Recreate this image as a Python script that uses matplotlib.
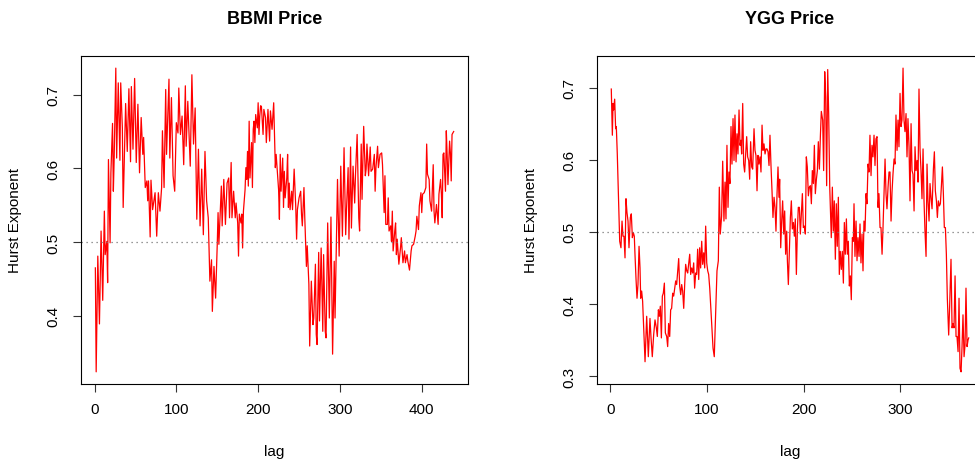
import numpy as np
import matplotlib
matplotlib.use("Agg")
import matplotlib.pyplot as plt

plt.rcParams['font.family'] = ['Liberation Sans', 'DejaVu Sans']

# ---- BBMI: lag / Hurst exponent ----
bbmi_lag = [1, 2, 4, 6, 8, 10, 12, 13, 15, 16, 17, 19, 20, 22, 23, 24, 26, 27, 29, 31,
            32, 34, 35, 38, 40, 42, 44, 45, 47, 49, 51, 53, 55, 57, 59, 60, 62, 64, 65, 66,
            68, 69, 71, 74, 76, 78, 80, 82, 83, 85, 87, 88, 89, 91, 92, 94, 96, 98, 100, 102,
            103, 105, 107, 109, 111, 112, 114, 117,
            119, 121, 123, 125, 127, 129, 131, 133, 135, 137, 139, 141, 143, 144, 146, 148, 150, 151, 152, 155,
            156, 158, 160, 162, 164, 165, 167, 168, 170, 172, 173, 175, 176, 177, 179, 180, 181, 182, 184, 185,
            186, 187, 188, 189, 190, 192, 193, 194, 195, 196, 197, 199, 200, 201, 202, 203, 204, 206, 207, 209,
            210, 212, 214, 215, 217, 219, 221, 222, 224, 225, 226, 227, 228, 230, 231, 232, 233, 235, 236, 237,
            238, 239, 241, 242, 244, 246, 247, 248,
            250, 252, 253, 254, 256, 257, 259, 260, 262, 263, 265, 267, 268, 270, 271, 272, 274, 275, 277, 279,
            280, 282, 283, 285, 287, 289, 291, 293, 294, 295, 297, 299, 301, 303, 305, 307, 308, 310, 311, 313,
            314, 316, 318, 319, 321, 323, 324, 326, 327, 329, 331, 332, 333, 335, 337, 338, 340, 342, 343, 344,
            346, 347, 349, 351, 352, 354, 355, 356, 358, 359, 360, 362, 363, 364, 365, 367, 368, 369, 370, 372,
            374, 375, 377, 379, 380, 382, 383, 385, 387, 388, 390, 392, 393, 394, 396, 397, 399, 400, 401, 403,
            405, 406, 407, 409, 410, 412, 413, 414, 415, 416, 418, 419, 420, 421, 423, 424, 425, 426, 427, 429,
            430, 431, 432, 434, 435, 436, 437, 439]
bbmi_h = [0.465, 0.324, 0.481, 0.389, 0.515, 0.421, 0.542, 0.483, 0.501, 0.445, 0.612, 0.499, 0.594, 0.661, 0.569,
          0.614, 0.736, 0.614, 0.716, 0.611, 0.716, 0.655, 0.547, 0.688, 0.623, 0.708, 0.609, 0.711, 0.626, 0.722,
          0.608, 0.687, 0.594, 0.669, 0.619, 0.642, 0.574, 0.583, 0.556, 0.583, 0.507, 0.584, 0.544, 0.567, 0.508,
          0.567, 0.542, 0.574, 0.651, 0.574, 0.707, 0.619, 0.653, 0.721, 0.614, 0.696, 0.590, 0.569, 0.662, 0.648,
          0.709, 0.646, 0.671, 0.605, 0.712, 0.630, 0.691, 0.603,
          0.727, 0.633, 0.682, 0.531, 0.626, 0.522, 0.599, 0.510, 0.623, 0.556, 0.533, 0.447, 0.476, 0.406, 0.467,
          0.424, 0.497, 0.540, 0.497, 0.576, 0.522, 0.585, 0.524, 0.580, 0.587, 0.533, 0.608, 0.533, 0.569, 0.533,
          0.553, 0.526, 0.481, 0.538, 0.526, 0.538, 0.492, 0.542, 0.571, 0.601, 0.585, 0.623, 0.576, 0.664, 0.587,
          0.635, 0.574, 0.653, 0.664, 0.635, 0.673, 0.655, 0.689, 0.646, 0.671, 0.685, 0.684, 0.646, 0.680, 0.669,
          0.635, 0.680, 0.637, 0.678, 0.653, 0.689, 0.601, 0.619, 0.587, 0.571, 0.531, 0.619, 0.569, 0.614, 0.547,
          0.596, 0.560, 0.587, 0.619, 0.547, 0.580, 0.544, 0.569, 0.544, 0.599, 0.547, 0.504, 0.544,
          0.560, 0.569, 0.538, 0.522, 0.574, 0.533, 0.467, 0.495, 0.443, 0.359, 0.447, 0.388, 0.397, 0.470, 0.375,
          0.361, 0.486, 0.393, 0.492, 0.379, 0.483, 0.379, 0.370, 0.526, 0.397, 0.534, 0.348, 0.474, 0.397, 0.461,
          0.585, 0.481, 0.603, 0.508, 0.628, 0.510, 0.544, 0.601, 0.504, 0.629, 0.519, 0.603, 0.553, 0.592, 0.646,
          0.533, 0.515, 0.633, 0.558, 0.657, 0.590, 0.599, 0.633, 0.590, 0.629, 0.596, 0.599, 0.619, 0.569, 0.601,
          0.630, 0.601, 0.619, 0.621, 0.605, 0.540, 0.590, 0.524, 0.524, 0.560, 0.515, 0.522, 0.501, 0.542, 0.488,
          0.515, 0.526, 0.483, 0.504, 0.470, 0.492, 0.506, 0.472, 0.488, 0.472, 0.483, 0.474, 0.462, 0.488, 0.495,
          0.497, 0.508, 0.515, 0.535, 0.517, 0.549, 0.567, 0.540, 0.565, 0.567, 0.574, 0.633, 0.592, 0.585, 0.556,
          0.542, 0.574, 0.605, 0.542, 0.526, 0.551, 0.538, 0.524, 0.565, 0.585, 0.565, 0.533, 0.619, 0.621, 0.569,
          0.651, 0.619, 0.578, 0.637, 0.621, 0.583, 0.646, 0.650]

# ---- YGG: lag / Hurst exponent ----
ygg_lag = [1.0, 2.1, 2.8, 3.4, 4.5, 5.5, 6.2, 7.2, 8.6, 9.7, 11.0, 12.1, 13.1, 14.1, 15.2, 16.2, 17.2, 18.3,
           19.3, 20.7, 21.7, 22.8, 23.8, 24.8, 25.5, 26.6, 27.6, 28.6, 29.7, 30.7, 31.4, 32.4, 33.4, 34.5, 35.9,
           37.6, 39.3, 41.0, 42.1, 43.4, 44.8, 46.2, 47.6, 48.6, 49.7, 50.7, 51.7, 52.8, 53.8, 54.8, 55.9, 56.9,
           58.3, 59.3, 60.3, 61.4, 62.4, 63.4, 64.5, 65.5, 66.6, 67.6, 68.6, 69.7, 70.7, 71.7, 72.8, 73.8, 74.8,
           75.9, 76.9, 77.9, 79.0, 80.0, 81.0, 82.1, 83.1, 84.1, 85.2, 86.2, 87.2, 88.3, 89.3, 90.3, 91.4, 92.4,
           93.4, 94.5, 95.5, 96.6, 97.6, 98.6, 99.7, 100.7, 101.7, 102.8,
           105.1, 106.2, 107.5, 108.9, 110.3, 111.7, 112.7, 113.7, 115.1, 116.2, 117.5, 118.6, 119.6, 120.6, 121.7,
           122.7, 123.7, 124.8, 125.8, 126.9, 127.9, 128.9, 130.0, 131.0, 132.0, 133.1, 134.1, 135.1, 135.8, 136.9,
           137.9, 138.9, 140.0, 141.0, 142.0, 143.1, 144.1, 145.1, 146.2, 147.2, 148.6, 149.6, 150.6, 151.7, 152.7,
           153.7, 154.8, 155.8, 156.9, 157.9, 158.9, 160.0, 161.0, 162.0, 163.1, 164.1, 165.1, 166.2, 167.2, 168.2,
           169.3, 170.3, 171.3, 172.4, 173.4, 174.4, 175.1, 176.2, 177.2, 178.2, 179.3, 180.3, 181.3, 182.4, 183.1,
           184.1, 185.1, 186.2, 187.2, 188.2, 189.3, 190.3, 191.3, 192.4, 193.4, 194.4, 195.5, 196.5, 197.5, 198.6,
           199.6, 200.6, 201.7, 202.7, 203.7, 204.8, 205.8, 206.9, 207.9, 208.9, 210.0, 211.0, 212.0, 213.1, 214.1,
           215.1, 216.2, 217.2, 218.2, 219.6, 220.6, 221.7, 222.7, 223.7, 224.8, 225.8, 226.9,
           228.5, 229.6, 230.6, 231.6, 232.7, 233.7, 234.7, 235.8, 236.8, 237.8, 238.9, 239.9, 241.0, 242.0, 243.0,
           244.1, 245.1, 246.1, 247.2, 248.2, 249.2, 250.3, 251.3, 252.0, 253.0, 254.1, 255.1, 256.1, 257.2, 258.2,
           259.2, 260.3, 261.3, 262.3, 263.4, 264.4, 265.4, 266.5, 267.5, 268.5, 269.6, 270.6, 271.6, 272.7, 273.7,
           274.7, 275.8, 276.8, 277.8, 278.9, 279.9, 281.0, 282.0, 283.0, 284.1, 285.1, 286.1, 287.2, 288.2, 289.2,
           290.3, 291.3, 292.3, 293.4, 294.4, 295.4, 296.5, 297.5, 298.5, 299.6, 300.6, 301.6, 302.7, 303.7, 304.7,
           305.8, 306.8, 307.8, 308.9, 309.9, 311.0, 312.0, 313.0, 314.1, 315.1, 316.1, 317.2, 318.2, 319.2, 320.3,
           321.3, 322.3, 323.4, 324.4, 325.4, 326.5, 327.5, 328.5, 329.6, 330.6, 331.6, 332.7, 334.1, 335.1, 336.1,
           337.2, 338.2, 339.2, 340.3, 341.3, 342.3, 343.4, 344.4, 345.4, 346.5, 347.5, 348.5, 349.9, 350.9, 352.3,
           353.4, 354.4, 355.4, 356.5, 357.5, 358.5, 359.6, 360.6, 361.6, 362.7, 363.7, 364.7, 365.8, 366.8, 367.8,
           368.9, 369.9, 370.6]
ygg_h = [0.698, 0.634, 0.678, 0.669, 0.684, 0.643, 0.646, 0.608, 0.543, 0.487, 0.478, 0.515, 0.494, 0.494, 0.464,
         0.546, 0.527, 0.515, 0.478, 0.520, 0.525, 0.492, 0.499, 0.494, 0.469, 0.434, 0.408, 0.427, 0.480, 0.450,
         0.408, 0.418, 0.404, 0.367, 0.320, 0.383, 0.327, 0.380, 0.353, 0.327, 0.357, 0.378, 0.367, 0.355, 0.392,
         0.383, 0.397, 0.353, 0.411, 0.415, 0.429, 0.360, 0.355, 0.341, 0.373, 0.355, 0.392, 0.394, 0.415, 0.411,
         0.422, 0.432, 0.427, 0.446, 0.463, 0.425, 0.413, 0.427, 0.418, 0.394, 0.427, 0.455, 0.446, 0.443, 0.455,
         0.469, 0.441, 0.450, 0.443, 0.457, 0.422, 0.443, 0.441, 0.476, 0.434, 0.478, 0.450, 0.487, 0.455, 0.471,
         0.450, 0.508, 0.457, 0.446, 0.441, 0.422,
         0.367, 0.339, 0.327, 0.385, 0.446, 0.460, 0.562, 0.497, 0.522, 0.598, 0.515, 0.569, 0.518, 0.620, 0.534,
         0.583, 0.567, 0.646, 0.594, 0.657, 0.599, 0.662, 0.597, 0.636, 0.608, 0.669, 0.620, 0.627, 0.608, 0.678,
         0.594, 0.583, 0.608, 0.632, 0.604, 0.599, 0.573, 0.625, 0.590, 0.587, 0.643, 0.613, 0.606, 0.557, 0.606,
         0.594, 0.604, 0.583, 0.648, 0.613, 0.622, 0.608, 0.615, 0.615, 0.611, 0.592, 0.634, 0.590, 0.557, 0.520,
         0.548, 0.534, 0.501, 0.553, 0.590, 0.548, 0.573, 0.478, 0.515, 0.543, 0.497, 0.529, 0.469, 0.501, 0.460,
         0.427, 0.469, 0.520, 0.543, 0.504, 0.513, 0.494, 0.518, 0.441, 0.501, 0.534, 0.534, 0.497, 0.525, 0.553,
         0.506, 0.508, 0.497, 0.604, 0.590, 0.550, 0.562, 0.564, 0.539, 0.585, 0.567, 0.620, 0.553, 0.573, 0.585,
         0.625, 0.587, 0.632, 0.667, 0.655, 0.585, 0.722, 0.687, 0.564, 0.725, 0.664, 0.562,
         0.492, 0.562, 0.501, 0.543, 0.462, 0.539, 0.480, 0.548, 0.441, 0.473, 0.448, 0.473, 0.429, 0.513, 0.469,
         0.518, 0.469, 0.487, 0.425, 0.439, 0.406, 0.492, 0.487, 0.539, 0.466, 0.515, 0.460, 0.492, 0.466, 0.511,
         0.457, 0.497, 0.446, 0.515, 0.501, 0.553, 0.539, 0.594, 0.583, 0.634, 0.578, 0.620, 0.604, 0.634, 0.592,
         0.629, 0.632, 0.534, 0.553, 0.506, 0.506, 0.469, 0.506, 0.553, 0.601, 0.553, 0.532, 0.562, 0.583, 0.583,
         0.515, 0.555, 0.580, 0.601, 0.594, 0.662, 0.613, 0.655, 0.618, 0.692, 0.646, 0.655, 0.727, 0.655, 0.639,
         0.664, 0.604, 0.657, 0.618, 0.543, 0.650, 0.585, 0.580, 0.529, 0.618, 0.585, 0.599, 0.569, 0.698, 0.613,
         0.585, 0.546, 0.615, 0.543, 0.501, 0.466, 0.594, 0.543, 0.515, 0.567, 0.548, 0.532, 0.587, 0.611, 0.557,
         0.543, 0.520, 0.543, 0.536, 0.539, 0.562, 0.590, 0.553, 0.506, 0.506, 0.469, 0.408, 0.357, 0.397, 0.462,
         0.367, 0.373, 0.367, 0.439, 0.355, 0.355, 0.334, 0.408, 0.311, 0.306, 0.341, 0.385, 0.327, 0.343, 0.422,
         0.341, 0.350, 0.353]

titles = ["BBMI Price", "YGG Price"]
xticks = [[0, 100, 200, 300, 400], [0, 100, 200, 300]]
yticks = [[0.4, 0.5, 0.6, 0.7], [0.3, 0.4, 0.5, 0.6, 0.7]]


def r_lim(v):
    # R style range: data range plus 4% on each side
    lo, hi = min(v), max(v)
    d = (hi - lo) * 0.04
    return lo - d, hi + d


fig = plt.figure(figsize=(9.75, 4.64), dpi=100)
boxes = [[0.0831, 0.1703, 0.3969, 0.7069], [0.6123, 0.1703, 0.3959, 0.7069]]
series = [(bbmi_lag, bbmi_h), (ygg_lag, ygg_h)]
ylab_x = [-0.152, -0.152]

for k in range(2):
    ax = fig.add_axes(boxes[k])
    x, y = series[k]
    ax.plot(x, y, color='red', lw=0.9)
    ax.axhline(0.5, color='#777777', lw=0.9, linestyle=(0, (1, 3)))
    ax.set_xlim(*r_lim(x))
    ax.set_ylim(*r_lim(y))
    ax.set_xticks(xticks[k])
    ax.set_yticks(yticks[k])
    ax.set_yticklabels([str(t) for t in yticks[k]], rotation=90, va='center')
    ax.tick_params(direction='out', length=6, width=0.8, labelsize=11, color='#333333')
    ax.tick_params(axis='x', pad=7)
    ax.tick_params(axis='y', pad=9)
    for s in ax.spines.values():
        s.set_linewidth(0.8)
        s.set_color('black')
    ax.set_title(titles[k], fontsize=13, fontweight='bold', pad=24)
    ax.set_xlabel('lag', fontsize=11)
    ax.set_ylabel('Hurst Exponent', fontsize=11)
    ax.xaxis.set_label_coords(0.5, -0.183)
    ax.yaxis.set_label_coords(ylab_x[k], 0.5)

fig.savefig('out.png', dpi=100)
